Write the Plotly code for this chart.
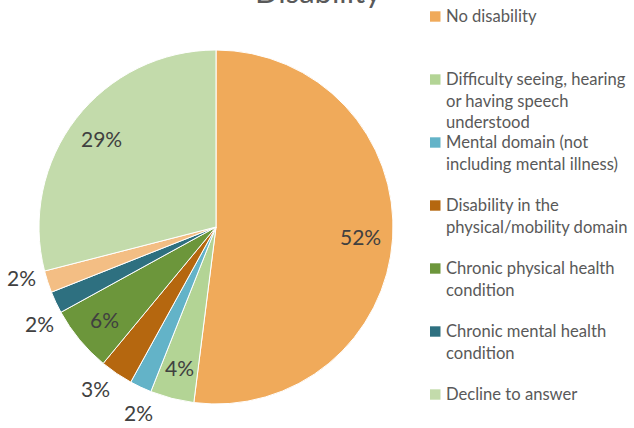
import math
import plotly.graph_objects as go

# Survey responses by disability category (percent of respondents)
categories = [
    "No disability",
    "Difficulty seeing, hearing or having speech understood",
    "Mental domain (not including mental illness)",
    "Disability in the physical/mobility domain",
    "Chronic physical health condition",
    "Chronic mental health condition",
    "Other",
    "Decline to answer",
]
shares = [52, 4, 2, 3, 6, 2, 2, 29]
label_side = ["inside", "inside", "outside", "outside", "inside", "outside", "outside", "inside"]

# Legend entries (wrapped as displayed) and the slice each one describes
legend_labels = [
    "No disability",
    "Difficulty seeing, hearing<br>or having speech<br>understood",
    "Mental domain (not<br>including mental illness)",
    "Disability in the<br>physical/mobility domain",
    "Chronic physical health<br>condition",
    "Chronic mental health<br>condition",
    "Decline to answer",
]
legend_slices = [0, 1, 2, 3, 4, 5, 7]

colors = ["#F0AA5A", "#B3D495", "#63B3C8", "#B5670F", "#6C963B", "#2E7080", "#F3BE84", "#C3DBAB"]

W, H = 634, 428
FONT = "Lato"


def px(x):
    return x / W


def py(y):
    return 1 - y / H


# Pie geometry: centre (216, 227), radius 177 px
cx, cy, r = 216, 227, 177

fig = go.Figure(
    go.Pie(
        labels=categories,
        values=shares,
        sort=False,
        direction="clockwise",
        rotation=0,
        marker=dict(colors=colors, line=dict(color="#FFFFFF", width=1)),
        textinfo="none",
        showlegend=False,
        hoverinfo="label+percent",
        domain=dict(x=[px(cx - r), px(cx + r)], y=[py(cy + r), py(cy - r)]),
        automargin=False,
    )
)

shapes = []
annotations = [
    dict(
        text="Disability",
        x=px(318), y=py(12), xref="paper", yref="paper",
        xanchor="center", yanchor="bottom", showarrow=False,
        font=dict(family=FONT, size=31, color="#595959"),
    )
]

# Bisector angle of every slice (degrees clockwise from 12 o'clock)
total = sum(shares)
angles, acc = [], 0.0
for v in shares:
    angles.append((acc + v / 2) / total * 360)
    acc += v

# Outside labels are spread apart so neighbours keep a minimum angular gap
MIN_GAP = 14
outside = [i for i, s in enumerate(label_side) if s == "outside"]
placed = {i: angles[i] for i in outside}
for _ in range(50):
    for a, b in zip(outside, outside[1:]):
        gap = placed[b] - placed[a]
        if gap < MIN_GAP:
            shift = (MIN_GAP - gap) / 2
            placed[a] -= shift
            placed[b] += shift

for i, v in enumerate(shares):
    if label_side[i] == "inside":
        ang, rr = angles[i], r * 0.82
    else:
        ang, rr = placed[i], r * 1.135
    t = math.radians(ang)
    lx = cx + rr * math.sin(t)
    ly = cy - rr * math.cos(t)
    annotations.append(dict(
        text=f"{v / total:.0%}", x=px(lx), y=py(ly), xref="paper", yref="paper",
        xanchor="center", yanchor="middle", showarrow=False,
        font=dict(family=FONT, size=21, color="#404040"),
    ))

# Legend drawn as evenly spaced rows
row0, step = 16.5, 63
for i, (name, s) in enumerate(zip(legend_labels, legend_slices)):
    yc = row0 + i * step
    shapes.append(dict(
        type="rect", xref="paper", yref="paper",
        x0=px(430), x1=px(440.5), y0=py(yc - 5.2), y1=py(yc + 5.2),
        fillcolor=colors[s], line=dict(width=0),
    ))
    annotations.append(dict(
        text=name, x=px(444), y=py(yc - 12.5), xref="paper", yref="paper",
        xanchor="left", yanchor="top", align="left", showarrow=False,
        font=dict(family=FONT, size=16.6, color="#595959"),
    ))

fig.update_layout(
    width=W, height=H,
    margin=dict(l=0, r=0, t=0, b=0),
    paper_bgcolor="#FFFFFF",
    plot_bgcolor="#FFFFFF",
    shapes=shapes,
    annotations=annotations,
    font=dict(family=FONT),
)

fig.write_html("out.html")
